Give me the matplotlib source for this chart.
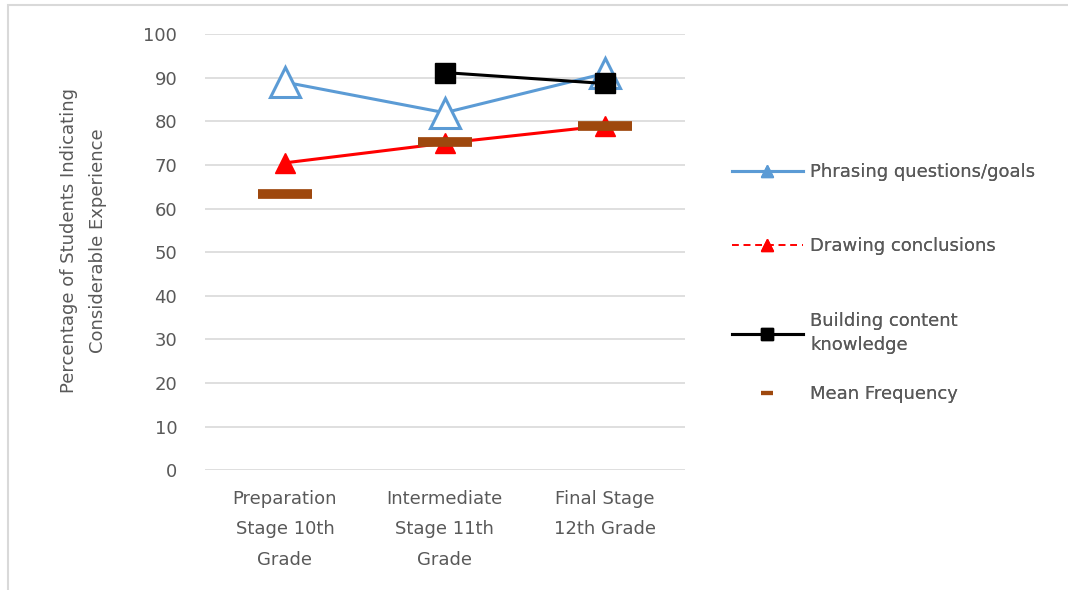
import numpy as np
import matplotlib.pyplot as plt
from matplotlib.lines import Line2D
from matplotlib.patches import Rectangle

# datos
categorias = ['Preparation\nStage 10th\nGrade', 'Intermediate\nStage 11th\nGrade', 'Final Stage\n12th Grade']
phrasing = [89, 82, 91]
drawing = [70.5, 75, 79]
building = [np.nan, 91.2, 88.7]
mean_freq = [63.3, 75.2, 79]
series_labels = ['Phrasing questions/goals', 'Drawing conclusions',
                 'Building content\nknowledge', 'Mean Frequency']

gris = '#595959'
azul = '#5B9BD5'
marron = '#9E480E'
fs = 13

plt.rcParams['font.family'] = ['DejaVu Sans']

fig = plt.figure(figsize=(10.68, 5.90), dpi=100)
ax = fig.add_axes([0.192, 0.203, 0.449, 0.739])

x = np.arange(len(categorias))
ax.plot(x, phrasing, color=azul, lw=2.2, marker='^', ms=21, mfc='white',
        mec=azul, mew=2.2, zorder=3)
ax.plot(x, drawing, color='red', lw=2.2, marker='^', ms=15, mfc='red',
        mec='red', zorder=4)
ax.plot(x, building, color='black', lw=2.2, marker='s', ms=14, mfc='black',
        mec='black', zorder=5)
ax.plot(x, mean_freq, ls='none', marker='_', ms=39, mew=7, color=marron,
        zorder=6)

ax.set_xlim(-0.5, 2.5)
ax.set_ylim(0, 100)
ax.set_yticks(np.arange(0, 101, 10))
ax.set_xticks(x)
ax.set_xticklabels(categorias, linespacing=1.9)
ax.tick_params(axis='both', length=0, labelsize=fs, colors=gris)
ax.tick_params(axis='y', pad=20)
ax.tick_params(axis='x', pad=14)
ax.grid(axis='y', color='#D9D9D9', lw=1.2)
ax.set_axisbelow(True)
for s in ax.spines.values():
    s.set_visible(False)

ax.set_ylabel('Percentage of Students Indicating\nConsiderable Experience',
              fontsize=fs, color=gris, linespacing=1.75)
ax.yaxis.set_label_coords(-0.205, 0.527)

# leyenda (una por entrada, posiciones a mano)
handles = [
    Line2D([], [], color=azul, lw=2.2, marker='^', ms=8, mfc=azul, mec=azul),
    Line2D([], [], color='red', lw=1.2, ls=(0, (4, 3)), marker='^', ms=9, mfc='red', mec='red'),
    Line2D([], [], color='black', lw=2.2, marker='s', ms=9, mfc='black', mec='black'),
    Line2D([], [], ls='none', marker='_', ms=9, mew=3, color=marron),
]
ypos = [172, 246, 333, 394]
for h, lab, yp in zip(handles, series_labels, ypos):
    lg = fig.legend([h], [lab], loc='center left',
                    bbox_to_anchor=(716 / 1068, 1 - yp / 590),
                    frameon=False, fontsize=fs, labelcolor=gris,
                    handlelength=3.9, handletextpad=0.4)
    for t in lg.get_texts():
        t.set_linespacing(1.5)
    fig.add_artist(lg)

# borde del grafico
fig.add_artist(Rectangle((8 / 1068, -0.05), 1.2, 1 - 5 / 590 + 0.05,
                         transform=fig.transFigure, fill=False,
                         ec='#D9D9D9', lw=1.5))

fig.savefig('out.png', dpi=100)
